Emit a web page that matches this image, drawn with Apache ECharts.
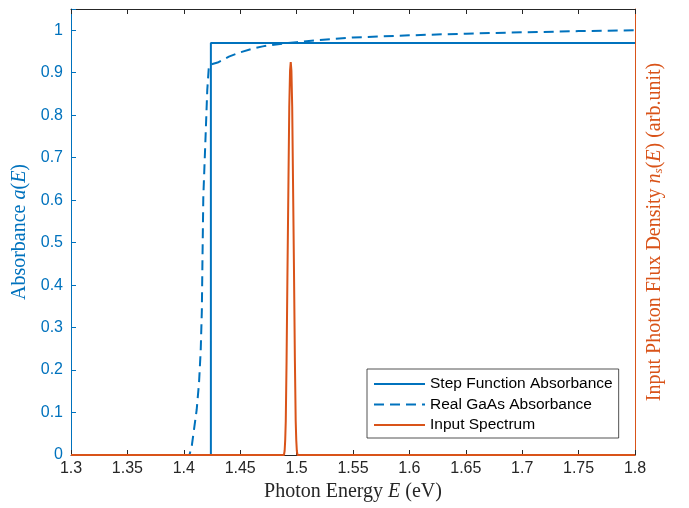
<!DOCTYPE html>
<html>
<head>
<meta charset="utf-8">
<script src="https://cdn.jsdelivr.net/npm/echarts@6/dist/echarts.min.js"></script>
<style>html,body{margin:0;padding:0;background:#fff}#c{width:689px;height:508px}</style>
</head>
<body>
<div id="c"></div>
<script>
// Step function absorbance
const stepE   = [1.3, 1.424, 1.424, 1.8];
const stepAbs = [0, 0, 0.97, 0.97];
// Real GaAs absorbance (dashed)
const gaasE   = [1.3, 1.405, 1.407, 1.4114, 1.4135, 1.415, 1.416, 1.4165, 1.4173, 1.4194, 1.4208, 1.4223, 1.43, 1.44, 1.45, 1.46, 1.47, 1.48, 1.49, 1.50, 1.52, 1.55, 1.60, 1.65, 1.70, 1.75, 1.80];
const gaasAbs = [0, 0, 0.02, 0.106, 0.17, 0.247, 0.34, 0.45, 0.608, 0.757, 0.859, 0.918, 0.924, 0.938, 0.948, 0.956, 0.962, 0.966, 0.969, 0.972, 0.977, 0.983, 0.988, 0.992, 0.995, 0.998, 1.0];
// Input spectrum (arb. unit)
const specE = [1.3, 1.4888, 1.4894, 1.4899, 1.4904, 1.4911, 1.4919, 1.4928, 1.4935, 1.4942, 1.4948, 1.4954, 1.4961, 1.4968, 1.4977, 1.4985, 1.4992, 1.4997, 1.5002, 1.5008, 1.8];
const specN = [0, 0, 0.01, 0.035, 0.08, 0.22, 0.43, 0.65, 0.82, 0.905, 0.925, 0.905, 0.82, 0.65, 0.43, 0.22, 0.08, 0.035, 0.01, 0, 0];

const BLUE = '#0072BD', ORANGE = '#D95319', DARK = '#262626';
const zip = (a, b) => a.map((x, i) => [x, b[i]]);
const sans = 'Liberation Sans, Helvetica, Arial, sans-serif';
const serif = 'Liberation Serif, DejaVu Serif, serif';
const TF = 20;

const chart = echarts.init(document.getElementById('c'), null, {renderer: 'canvas'});
chart.setOption({
  animation: false,
  backgroundColor: '#fff',
  grid: {left: 71, right: 54, top: 9, bottom: 53, containLabel: false},
  legend: {
    orient: 'vertical', left: 367, top: 369,
    padding: [7, 6, 5, 6],
    itemWidth: 51, itemHeight: 14, itemGap: 4.5,
    backgroundColor: '#fff', borderColor: DARK, borderWidth: 0.8,
    itemStyle: {color: 'rgba(0,0,0,0)', borderWidth: 0, opacity: 0},
    textStyle: {fontFamily: sans, fontSize: 15.5, color: '#000', lineHeight: 16},
    data: ['Step Function Absorbance', 'Real GaAs Absorbance', 'Input Spectrum']
  },
  xAxis: [{
    type: 'value', min: 1.3, max: 1.8, interval: 0.05, position: 'bottom',
    axisLine: {onZero: false, lineStyle: {color: DARK, width: 1}},
    axisTick: {inside: true, length: 5, lineStyle: {color: DARK}},
    axisLabel: {margin: 6, fontFamily: sans, fontSize: 16, color: DARK,
      formatter: v => String(parseFloat(v.toFixed(2)))},
    splitLine: {show: false},
    name: '{a|Photon Energy }{i|E}{a| (eV)}',
    nameLocation: 'middle', nameGap: 27,
    nameTextStyle: {rich: {
      a: {fontFamily: serif, fontSize: TF, color: DARK},
      i: {fontFamily: serif, fontSize: TF, color: DARK, fontStyle: 'italic'}
    }}
  }, {
    type: 'value', min: 1.3, max: 1.8, interval: 0.05, position: 'top',
    axisLine: {show: true, onZero: false, lineStyle: {color: DARK, width: 1}},
    axisTick: {show: true, inside: true, length: 5, lineStyle: {color: DARK}},
    axisLabel: {show: false}, splitLine: {show: false}
  }],
  yAxis: [{
    type: 'value', min: 0, max: 1.05, interval: 0.1, position: 'left',
    axisLine: {show: true, onZero: false, lineStyle: {color: BLUE, width: 1}},
    axisTick: {show: true, inside: true, length: 5, lineStyle: {color: BLUE}},
    axisLabel: {margin: 8, fontFamily: sans, fontSize: 16, color: BLUE,
      formatter: v => (Math.abs(v * 10 - Math.round(v * 10)) > 1e-6 ? '' : String(parseFloat(v.toFixed(1))))},
    splitLine: {show: false},
    name: '{a|Absorbance }{i|a}{a|(}{i|E}{a|)}',
    nameLocation: 'middle', nameGap: 41, nameRotate: 90,
    nameTextStyle: {rich: {
      a: {fontFamily: serif, fontSize: TF, color: BLUE},
      i: {fontFamily: serif, fontSize: TF, color: BLUE, fontStyle: 'italic'}
    }}
  }, {
    type: 'value', min: 0, max: 1.05, position: 'right',
    axisLine: {show: true, onZero: false, lineStyle: {color: ORANGE, width: 1}},
    axisTick: {show: false}, axisLabel: {show: false}, splitLine: {show: false},
    name: '{a|Input Photon Flux Density }{i|n}{s|s}{a|(}{i|E}{a|) (arb.unit)}',
    nameLocation: 'middle', nameGap: 9, nameRotate: 90,
    nameTextStyle: {rich: {
      a: {fontFamily: serif, fontSize: TF, color: ORANGE},
      i: {fontFamily: serif, fontSize: TF, color: ORANGE, fontStyle: 'italic'},
      s: {fontFamily: serif, fontSize: 13, color: ORANGE, fontStyle: 'italic', padding: [8, 0, 0, 0]}
    }}
  }],
  series: [{
    name: 'Step Function Absorbance', type: 'line', xAxisIndex: 0, yAxisIndex: 0,
    data: zip(stepE, stepAbs), symbol: 'none', showSymbol: false,
    lineStyle: {color: BLUE, width: 2}, itemStyle: {color: BLUE}
  }, {
    name: 'Real GaAs Absorbance', type: 'line', xAxisIndex: 0, yAxisIndex: 0,
    data: zip(gaasE, gaasAbs), symbol: 'none', showSymbol: false,
    lineStyle: {color: BLUE, width: 2, type: [10, 6]}, itemStyle: {color: BLUE}
  }, {
    name: 'Input Spectrum', type: 'line', xAxisIndex: 0, yAxisIndex: 1,
    data: zip(specE, specN), symbol: 'none', showSymbol: false,
    lineStyle: {color: ORANGE, width: 2}, itemStyle: {color: ORANGE}
  }]
});
</script>
</body>
</html>
